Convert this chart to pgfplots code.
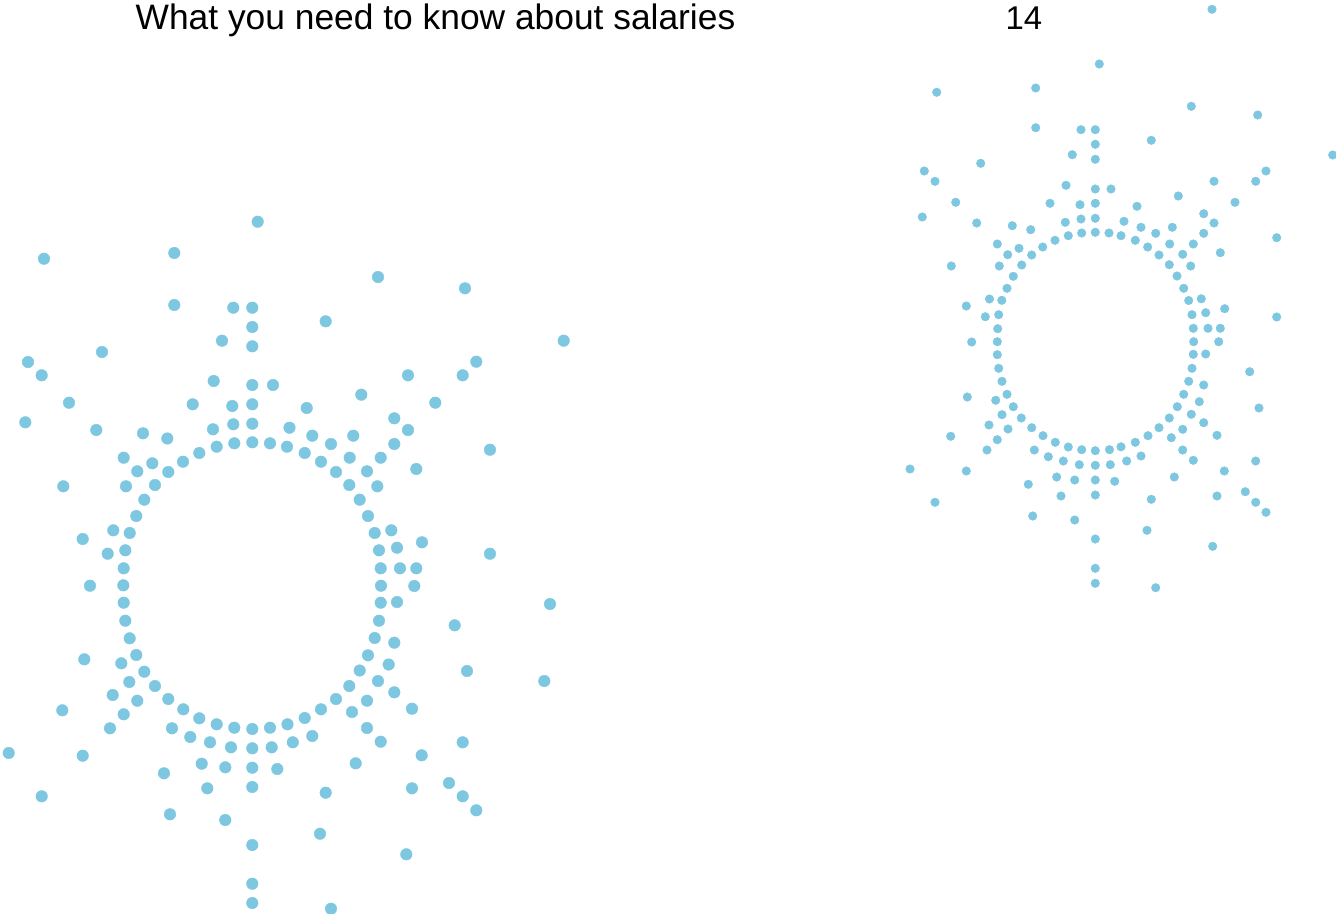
\documentclass[border=0pt]{standalone}
\usepackage{pgfplots}
\pgfplotsset{compat=1.18}
\usepackage{pgfplotstable}
\usepackage{fontspec}
\setmainfont{Liberation Sans}
\definecolor{dot}{RGB}{126,199,225}
\pgfplotstableread{
x y
257.7 221.7
44 258.7
174.3 253
174.3 305
233.3 307.7
252.3 307.7
252.3 327
222 340.7
252.3 346.3
102 352
28 362
41.7 375.3
213.7 381
252.3 385
273 385
69 402.7
192.7 404.3
232.3 406
252.3 404.3
25.3 422.3
96.3 430
143 433.3
167.3 438.5
213 429.3
233.3 424.3
252.3 423.7
289.5 427.7
378 277
465 288.3
325.7 321.3
563.7 340.7
476.3 361.7
408 375.3
462.7 375.3
361.3 394.7
306.7 408
435.3 402.7
394.3 418.3
408 430
312.3 435.7
353.3 435.7
331 444
394.3 444
216.7 446.7
234.3 443.3
252.3 442.3
270 443.3
287 446.7
123.7 457.7
152.3 463.3
183 461.7
199.3 453
137.3 471.3
168.3 472
63.3 486.3
126 486.3
155 485
144.3 499.7
136.3 516
113.3 530.3
129.7 533
82.7 539
107.7 553.7
125.3 550.3
123.7 568.3
90 585.7
123.3 585.3
123.7 602.7
125.3 620.7
129.7 638.3
84.3 659.3
121.3 663.3
136.3 655
304.7 453
349.7 457.7
490 449.7
321 461.7
336 472
367 471.3
380.7 457.7
416.3 469
349.3 485
377.3 486.3
359.7 499.7
368 516
374.7 533
391.3 530.3
422 542.3
379 550.3
397 547.7
490 553.7
380.7 568.3
400 568.3
416.3 568.3
381 585.7
414.3 586
380.7 602.7
397 602
550 604
379 620.7
454.7 625.3
374.7 638
394.3 642.7
368 655.3
388.7 664.5
359.7 670.5
467 671
144.3 671.7
129.3 682
155 686
112.7 695
137.3 700.7
168.3 699
62.3 710.3
183.3 709.3
123.7 714.3
199.3 718.3
216.7 724.3
234.3 727.7
252.3 729
270 727.7
287.5 724.3
110 728.3
172 728.3
190.3 737
210 742.3
231 747.3
252.3 748.3
271.7 747.3
292.8 742.3
8.7 753
82.7 755.7
164 773.3
201.7 763.7
225.3 767.3
252.3 767.7
277.3 769
207.3 788.3
252.3 787
41.7 796.3
170 814.3
225.3 820
252.3 845
252.3 883.7
252.3 903
544.3 681
349.3 686
378 681
394.3 692.3
336 699
367 700.7
321 709.3
412 708.7
304.7 718
352 712
312.3 736
367 728
380.7 741.7
462.7 742.3
421.7 755.3
355.7 763.3
325.7 792.7
412 788.3
449 783
462.7 796.3
476.3 810.3
320 833.7
406.3 854.3
331 908.7
}\leftdots
\pgfplotstableread{
x y
1099.3 64
936.7 92.3
1035.7 88
1035.7 127.7
1081 129.7
1095.3 129.7
1095.3 144.3
1072.3 154.7
1095.3 159.3
980.7 163.3
924.3 171
935 181.3
1066 185.3
1095.3 189
1111 189
955.7 202.3
1050 203.3
1080 204.7
1095.3 203.3
922.3 217
976.7 223
1012.3 225.7
1030.7 229.7
1065.3 222.3
1081 219
1095.3 218.3
1068.3 235.7
1081.7 233
1095.3 232.3
1109 233
1121 235.7
1055 240.3
1042.7 247
997.3 244
1019 248.3
1007.7 254.7
1031.7 255
951.3 266
999.3 266
1021.7 265
1013.3 276.3
1007 288.3
989.5 299
1001.8 300.3
1212 9.3
1191.3 106.3
1257.7 115
1151.3 140.3
1332.7 155
1266 171
1214 181.3
1255.7 181.3
1178.3 196
1137 206.3
1235 202.3
1203.7 213.7
1124 221.3
1214 223
1141 227.3
1172.3 227.3
1155.7 233.3
1203.7 233.3
1276.7 237.7
1135.3 240.3
1169.7 244
1193.3 244
1147.7 247
1159 255
1182.7 254.3
1220.3 252.7
1169.3 264.7
1190.7 266
1177 276
1183.7 288.3
1188.7 300.5
1201.3 298.8
966.3 306
985.3 316.7
998.7 314.7
997.7 328.7
971.7 342
997.3 341.7
997.3 354.7
998.7 368.3
1002 381.3
967.3 397
995.7 400.3
1007 394.3
1013.3 406.7
1002 414.7
1021.3 418
989 425
1008 429
1031.7 427.7
950.7 436.3
997.3 439.7
1043 435.7
1055.3 442.3
1068.3 447
1081.7 449.7
1095.3 450.7
1109.5 449.7
1121 446.8
987 450
1034.3 450
1048.3 456.7
1063.3 461
1079.3 464.7
1095.3 465.3
1110.3 464.7
910 469
966.3 471
1056.7 477
1074.7 480
1095.3 480
1114.7 481.3
1028.3 484.3
1061 496
1095.3 495
935 502.3
1032.7 516
1074.7 520
1095.3 539
1095.3 568.3
1095.3 583.3
1224.7 308.7
1276.7 317
1192 314.7
1205.7 312.7
1193.3 328.3
1208 328.3
1220.3 328.3
1193.7 341.7
1218.7 341.7
1193.3 354.3
1205.7 354
1192 368.3
1249.7 371.7
1188.7 381.3
1203.7 385
1183.7 394.3
1199.3 401.7
1259 408
1177.3 406.7
1169.3 418
1191.3 414.3
1159 427.7
1182.7 429.3
1203.7 422.7
1148 435.7
1171.3 437.7
1217 435.3
1135.3 442.3
1182.7 450
1193.3 460.3
1255.7 461
1126.7 461
1141 456
1174.3 477
1224.3 471
1151.3 499.3
1217 496
1245.3 491.7
1255.7 502.3
1266 512.3
1147 530.3
1212.7 546.3
1155.7 587.7
}\rightdots
\begin{document}
\begin{tikzpicture}
\useasboundingbox (0,0) rectangle (1336bp,914bp);
\begin{axis}[
  at={(0,0)}, anchor=south west,
  scale only axis, width=1336bp, height=914bp,
  xmin=0, xmax=1336, ymin=0, ymax=914,
  y dir=reverse,
  hide axis, clip=false,
]
\addplot[only marks, mark=*, mark size=5.8bp, color=dot, mark options={draw=none, fill=dot}] table {\leftdots};
\addplot[only marks, mark=*, mark size=4.3bp, color=dot, mark options={draw=none, fill=dot}] table {\rightdots};
\node[font=\fontsize{35.5}{40}\selectfont, anchor=base, inner sep=0pt] at (axis cs:435.5,30) {What you need to know about salaries};
\node[font=\fontsize{33}{38}\selectfont, anchor=base, inner sep=0pt] at (axis cs:1024,30) {14};
\end{axis}
\end{tikzpicture}
\end{document}
